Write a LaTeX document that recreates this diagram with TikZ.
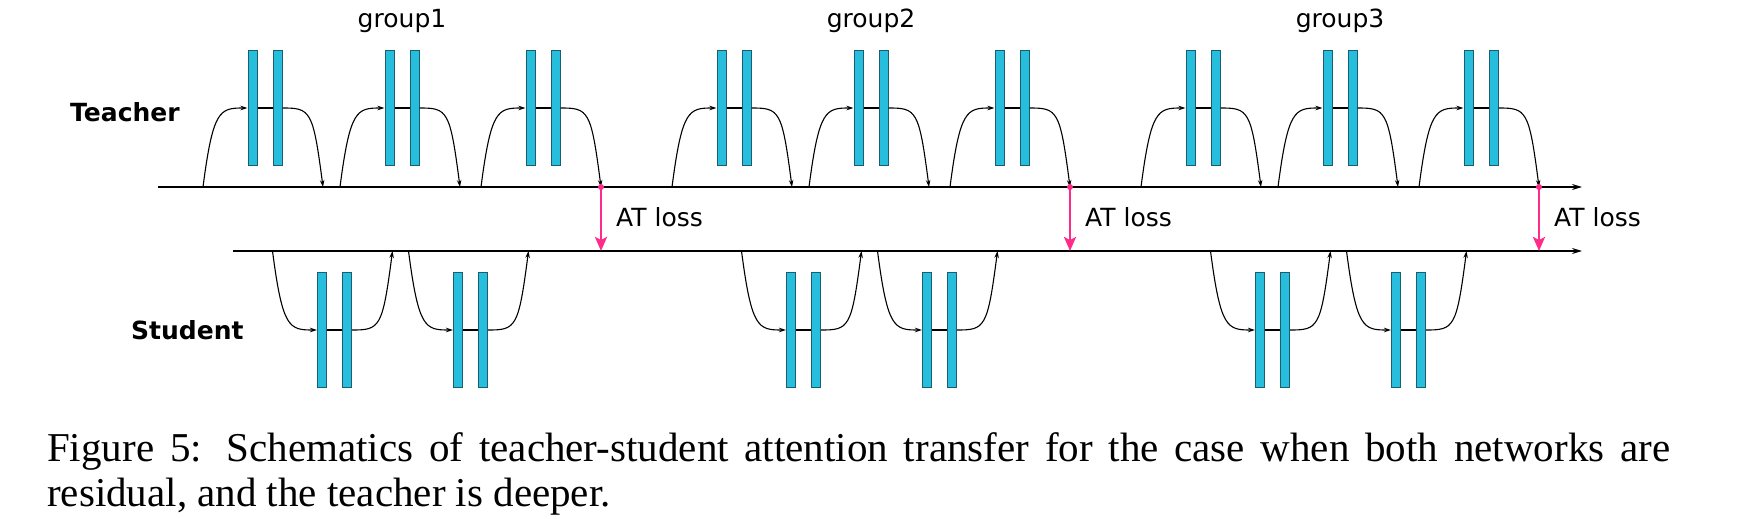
\documentclass[tikz,border=0pt]{standalone}
\usepackage{fontspec}
\setmainfont{Liberation Serif}
\newfontfamily\verdanalike{DejaVu Sans}
\usetikzlibrary{arrows.meta,positioning,calc}
\definecolor{barcyan}{HTML}{27BDDD}
\definecolor{baredge}{HTML}{1B5E6E}
\definecolor{atpink}{HTML}{FF2A8A}
\tolerance=9000
\begin{document}
\begin{tikzpicture}[x=1pt,y=-1pt,
				lbl/.style={inner sep=0pt,font=\verdanalike\fontsize{25}{30}\selectfont},
				bar/.style={rectangle,draw=baredge,fill=barcyan,line width=1pt,minimum width=9pt,minimum height=115pt,inner sep=0pt},
				axis/.style={line width=1.4pt,-{Stealth[length=10pt,width=6pt]}},
				flow/.style={line width=1.1pt,-{Stealth[length=7pt,width=4.5pt]}},
				lossarrow/.style={atpink,line width=2.6pt,-{Stealth[length=14pt,width=12pt,inset=3pt]}}]
\useasboundingbox (0,0) rectangle (1740,519);
\node[lbl,anchor=base west] (teacher) at (70,121) {\bfseries Teacher};
\node[lbl,anchor=base west] (student) at (131,339) {\bfseries Student};
\coordinate (tstart) at (158,187);
\coordinate (tend) at (1582,187);
\coordinate (sstart) at (233,251);
\coordinate (send) at (1582,251);
\draw[axis] (tstart) -- (tend);
\draw[axis] (sstart) -- (send);
\foreach \g [count=\n] in {0,1,2}{
	\node[lbl,anchor=base] (group\n) at (402+469*\g,28) {group\n};
	\foreach \c [count=\k] in {265,402,543}{
		\pgfmathsetmacro\cx{\c+469*\g}
		\node[bar] (ta\g\k) at (\cx-12.5,108) {};
		\node[bar] (tb\g\k) at (\cx+12.5,108) {};
		\coordinate (tin\g\k) at (\cx-62,187);
		\coordinate (tout\g\k) at (\cx+58,187);
		\draw[flow] (tin\g\k) .. controls +(10,-77) and +(-28,0) .. (ta\g\k.west);
		\draw[line width=1.1pt] (ta\g\k.east) -- (tb\g\k.west);
		\draw[flow] (tb\g\k.east) .. controls +(28,0) and +(-10,-77) .. (tout\g\k);
	}
	\foreach \c [count=\k] in {334.5,470.5}{
		\pgfmathsetmacro\cx{\c+469*\g}
		\node[bar] (sa\g\k) at (\cx-12.5,330) {};
		\node[bar] (sb\g\k) at (\cx+12.5,330) {};
		\coordinate (sin\g\k) at (\cx-62,251);
		\coordinate (sout\g\k) at (\cx+58,251);
		\draw[flow] (sin\g\k) .. controls +(10,77) and +(-28,0) .. (sa\g\k.west);
		\draw[line width=1.1pt] (sa\g\k.east) -- (sb\g\k.west);
		\draw[flow] (sb\g\k.east) .. controls +(28,0) and +(-10,77) .. (sout\g\k);
	}
	\coordinate (lossend\g) at (tout\g3 |- sstart);
	\fill[atpink] (tout\g3) circle (3pt);
	\draw[lossarrow] (tout\g3) -- (lossend\g);
	\node[lbl,anchor=base west] (atloss\g) at ($(tout\g3)+(15,39)$) {AT loss};
}
\node[anchor=base west,inner sep=0pt,text width=1623pt,align=justify,font=\fontsize{41}{45}\selectfont] (caption) at (47,461) {Figure 5: Schematics of teacher-student attention transfer for the case when both networks are\linebreak residual, and the teacher is deeper.};
\end{tikzpicture}
\end{document}
